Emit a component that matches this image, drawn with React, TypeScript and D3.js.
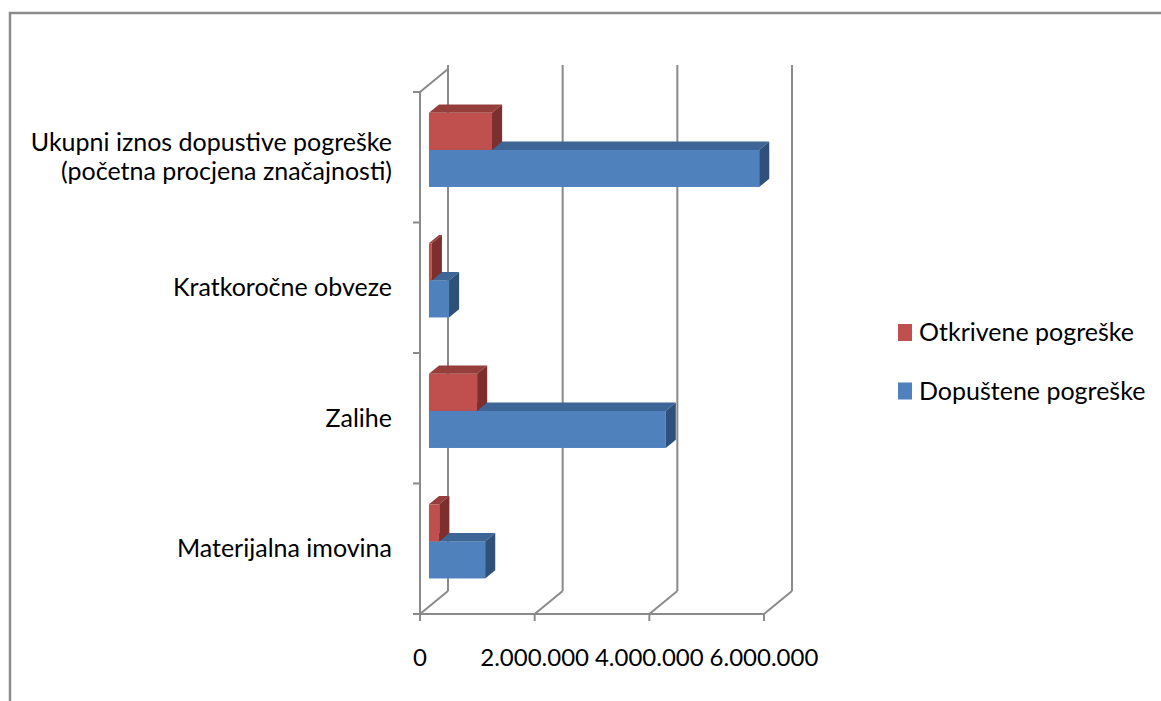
import React from "react";
import * as d3 from "d3";

// categories listed bottom -> top, as in the workbook
const categories = [
  "Materijalna imovina",
  "Zalihe",
  "Kratkoročne obveze",
  "Ukupni iznos dopustive pogreške\n(početna procjena značajnosti)",
];
const seriesNames = ["Dopuštene pogreške", "Otkrivene pogreške"];
const dopustene = [980000, 4130000, 350000, 5760000];
const otkrivene = [180000, 840000, 50000, 1100000];
const xTicks = [0, 2000000, 4000000, 6000000];
const xTickLabels = ["0", "2.000.000", "4.000.000", "6.000.000"];

const faces: Record<string, { front: string; top: string; side: string }> = {
  "Dopuštene pogreške": { front: "#4F81BD", top: "#3D6696", side: "#2F5179" },
  "Otkrivene pogreške": { front: "#C0504D", top: "#953E3B", side: "#7C2F2D" },
};

const W = 1161;
const H = 701;
const depth = { dx: 28, dy: -23 };
const font = "Lato, 'Open Sans', sans-serif";
const grid = "#8A8A8A";

export default function App() {
  const x = d3.scaleLinear().domain([0, 6000000]).range([420, 764]);
  const y = d3
    .scaleBand<string>()
    .domain(categories.slice().reverse())
    .range([92, 614])
    .padding(0);
  // upper bar = Otkrivene, lower bar = Dopuštene
  const ys = d3
    .scaleBand<string>()
    .domain(["Otkrivene pogreške", "Dopuštene pogreške"])
    .range([0, y.bandwidth()])
    .paddingInner(0)
    .paddingOuter(0.76);

  const fx = depth.dx * 0.32, fy = depth.dy * 0.32;
  const bx = depth.dx * 0.36, by = depth.dy * 0.36;
  const h = ys.bandwidth();

  const bars: React.ReactNode[] = [];
  categories.forEach((c, i) => {
    const vals: [string, number][] = [
      ["Dopuštene pogreške", dopustene[i]],
      ["Otkrivene pogreške", otkrivene[i]],
    ];
    vals.forEach(([s, v]) => {
      const x0 = x(0) + fx;
      const x1 = x(v) + fx;
      const y0 = (y(c) as number) + (ys(s) as number) + fy;
      const y1 = y0 + h;
      const col = faces[s];
      bars.push(
        <g key={c + s}>
          <rect x={x0} y={y0} width={x1 - x0} height={h} fill={col.front} />
          <polygon
            points={`${x0},${y0} ${x1},${y0} ${x1 + bx},${y0 + by} ${x0 + bx},${y0 + by}`}
            fill={col.top}
          />
          <polygon
            points={`${x1},${y0} ${x1 + bx},${y0 + by} ${x1 + bx},${y1 + by} ${x1},${y1}`}
            fill={col.side}
          />
        </g>
      );
    });
  });

  const bandEdges = [92, ...categories.map((c) => (y(c) as number) + y.bandwidth())];

  return (
    <svg
      width={W}
      height={H}
      style={{ position: "absolute", left: 0, top: 0, background: "#fff" }}
    >
      {/* outer frame */}
      <rect x={10} y={13} width={W + 20} height={H + 20} fill="#fff" stroke="#8C8C8C" strokeWidth={2.5} />

      {/* back wall gridlines + floor diagonals */}
      {xTicks.map((t) => (
        <g key={"g" + t} stroke={grid} strokeWidth={2} fill="none">
          <line x1={x(t) + depth.dx} x2={x(t) + depth.dx} y1={614 + depth.dy} y2={65} />
          <line x1={x(t)} y1={614} x2={x(t) + depth.dx} y2={614 + depth.dy} />
        </g>
      ))}
      {/* left wall */}
      <g stroke={grid} strokeWidth={2} fill="none">
        <line x1={420} x2={420} y1={92} y2={614} />
        <line x1={420} y1={92} x2={420 + depth.dx} y2={92 + depth.dy} />
        <line x1={420} x2={x(6000000) + 1} y1={614} y2={614} />
        {bandEdges.map((e) => (
          <line key={"t" + e} x1={413} x2={420} y1={e} y2={e} />
        ))}
        {xTicks.map((t) => (
          <line key={"b" + t} x1={x(t)} x2={x(t)} y1={614} y2={621} />
        ))}
      </g>

      {bars}

      {/* value axis labels */}
      {xTicks.map((t, i) => (
        <text
          key={"l" + t}
          x={x(t)}
          y={666}
          textAnchor="middle"
          fontFamily={font}
          fontSize={24}
          fill="#000"
        >
          {xTickLabels[i]}
        </text>
      ))}

      {/* category labels */}
      {categories.map((c) => {
        const lines = c.split("\n");
        const cy = (y(c) as number) + y.bandwidth() / 2;
        return (
          <text key={"c" + c} textAnchor="end" fontFamily={font} fontSize={25} fill="#000">
            {lines.map((ln, k) => (
              <tspan key={k} x={392} y={cy + 8.5 + (k - (lines.length - 1) / 2) * 29}>
                {ln}
              </tspan>
            ))}
          </text>
        );
      })}

      {/* legend */}
      {["Otkrivene pogreške", "Dopuštene pogreške"].map((s, i) => (
        <g key={"lg" + s} transform={`translate(898, ${324 + i * 58.5})`}>
          <rect x={0} y={0} width={14} height={17} fill={faces[s].front} />
          <text x={21} y={17} fontFamily={font} fontSize={25} fill="#000">
            {s}
          </text>
        </g>
      ))}
    </svg>
  );
}
